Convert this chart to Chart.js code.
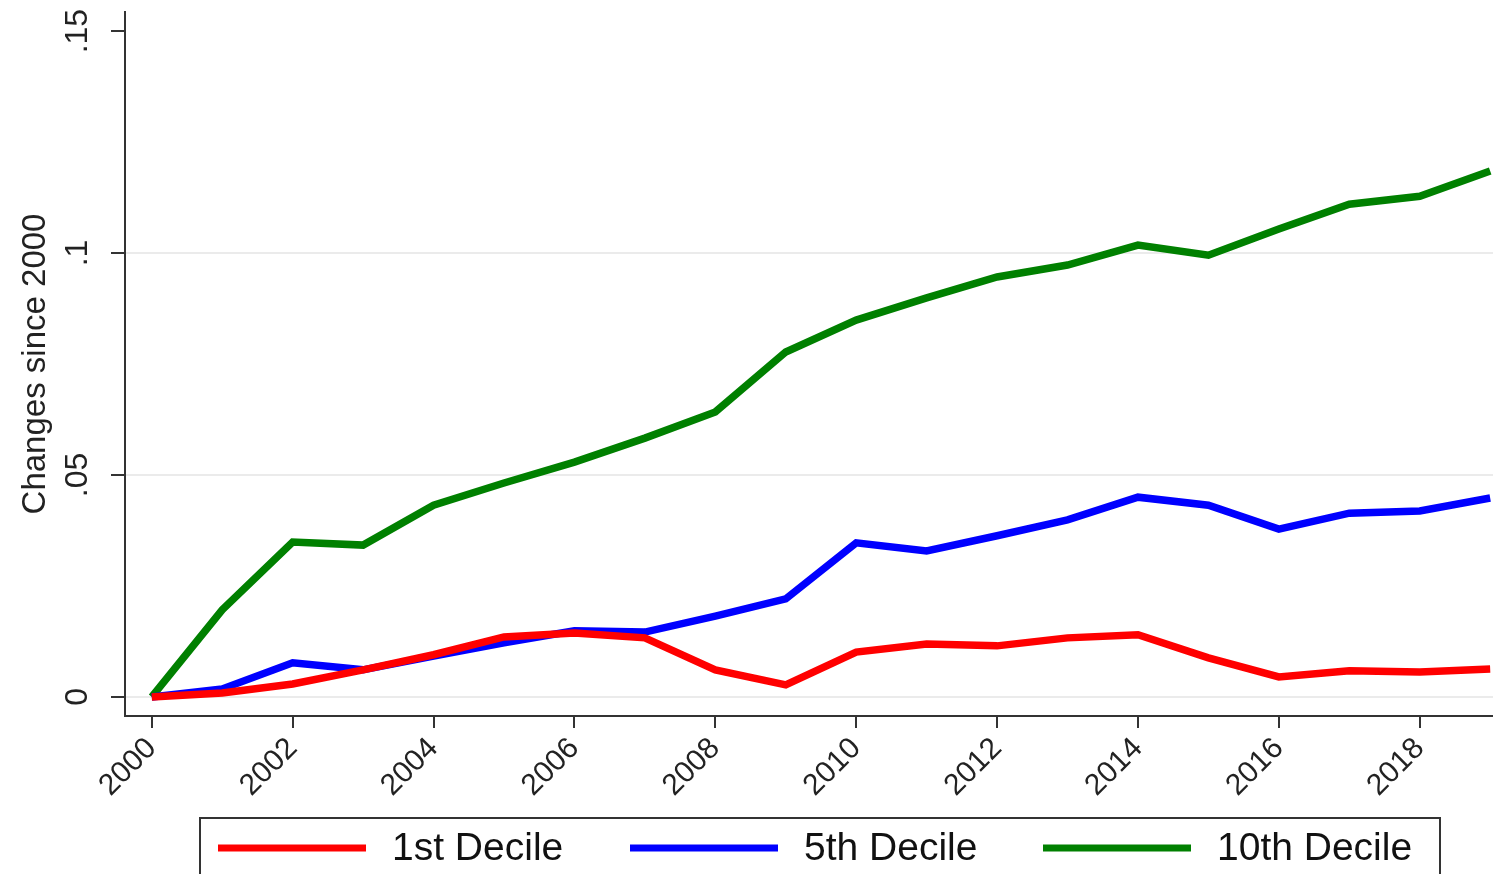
<!DOCTYPE html>
<html>
<head>
<meta charset="utf-8">
<script src="https://cdn.jsdelivr.net/npm/chart.js@4.4.1/dist/chart.umd.min.js"></script>
<style>
  html, body { margin: 0; padding: 0; background: #fff; overflow: hidden; }
  canvas { display: block; }
</style>
</head>
<body>
<canvas id="graphique" width="1493" height="874"></canvas>
<script>
var annees = [2000, 2001, 2002, 2003, 2004, 2005, 2006, 2007, 2008, 2009,
              2010, 2011, 2012, 2013, 2014, 2015, 2016, 2017, 2018, 2019];
var decile1 = [0, 0.0009, 0.0029, 0.0061, 0.0095, 0.0135, 0.0144, 0.0133, 0.0061, 0.0027,
               0.0101, 0.0119, 0.0115, 0.0133, 0.0140, 0.0088, 0.0045, 0.0059, 0.0056, 0.0063];
var decile5 = [0, 0.0018, 0.0077, 0.0061, 0.0092, 0.0122, 0.0149, 0.0146, 0.0182, 0.0221,
               0.0347, 0.0329, 0.0363, 0.0399, 0.0450, 0.0432, 0.0378, 0.0414, 0.0419, 0.0448];
var decile10 = [0, 0.0196, 0.0349, 0.0342, 0.0432, 0.0482, 0.0529, 0.0583, 0.0642, 0.0777,
                0.0849, 0.0899, 0.0946, 0.0973, 0.1018, 0.0995, 0.1054, 0.1110, 0.1128, 0.1185];
var nomsSeries = ["1st Decile", "5th Decile", "10th Decile"];
var ticksX = [2000, 2002, 2004, 2006, 2008, 2010, 2012, 2014, 2016, 2018];
var ticksY = [0, 0.05, 0.1, 0.15];
var etiquettesY = ["0", ".05", ".1", ".15"];

var police = "'Liberation Sans', Arial, sans-serif";

function points(valeurs) {
  return annees.map(function(annee, i) {
    return { x: annee, y: valeurs[i] };
  });
}

// legende encadree facon Stata, dessinee sous l'axe des x
var legendeStata = {
  id: "legendeStata",
  afterDraw: function(chart) {
    var ctx = chart.ctx;
    var departs = [218, 630, 1043];
    var yc = 848;
    ctx.save();
    ctx.strokeStyle = "#333";
    ctx.lineWidth = 2;
    ctx.strokeRect(200, 818, 1240, 80);
    chart.data.datasets.forEach(function(ds, i) {
      ctx.strokeStyle = ds.borderColor;
      ctx.lineWidth = 7;
      ctx.beginPath();
      ctx.moveTo(departs[i], yc);
      ctx.lineTo(departs[i] + 148, yc);
      ctx.stroke();
      ctx.fillStyle = "#111";
      ctx.font = "39px " + police;
      ctx.textBaseline = "middle";
      ctx.fillText(ds.label, departs[i] + 174, yc + 1);
    });
    ctx.restore();
  }
};

var ctx = document.getElementById("graphique").getContext("2d");
var chart = new Chart(ctx, {
  type: "line",
  data: {
    datasets: [
      { label: nomsSeries[0], data: points(decile1), borderColor: "rgb(255, 0, 0)", borderWidth: 7.5 },
      { label: nomsSeries[1], data: points(decile5), borderColor: "rgb(0, 0, 255)", borderWidth: 7.5 },
      { label: nomsSeries[2], data: points(decile10), borderColor: "rgb(0, 128, 0)", borderWidth: 7.5 }
    ]
  },
  options: {
    responsive: false,
    animation: false,
    layout: { padding: { top: 12, left: 0, right: 0, bottom: 0 } },
    elements: {
      point: { radius: 0 },
      line: { tension: 0, fill: false }
    },
    plugins: {
      legend: { display: false },
      tooltip: { enabled: false }
    },
    scales: {
      x: {
        type: "linear",
        min: 1999.62,
        max: 2019.04,
        afterBuildTicks: function(axis) {
          axis.ticks = ticksX.map(function(v) { return { value: v }; });
        },
        afterFit: function(axis) {
          axis.height = 158;
          axis.paddingLeft = 0;
          axis.paddingRight = 0;
        },
        ticks: {
          minRotation: 45,
          maxRotation: 45,
          padding: 3,
          color: "#222",
          font: { family: police, size: 30 },
          callback: function(v) { return String(v); }
        },
        grid: { drawOnChartArea: false, tickColor: "#333", tickLength: 12, lineWidth: 2 },
        border: { color: "#333", width: 2 }
      },
      y: {
        min: -0.0043,
        max: 0.1543,
        afterBuildTicks: function(axis) {
          axis.ticks = ticksY.map(function(v) { return { value: v }; });
        },
        afterFit: function(axis) {
          axis.width = 125;
          axis.paddingTop = 0;
          axis.paddingBottom = 0;
        },
        ticks: {
          minRotation: 90,
          maxRotation: 90,
          crossAlign: "center",
          padding: 11,
          color: "#222",
          font: { family: police, size: 32 },
          callback: function(v, i) { return etiquettesY[i]; }
        },
        grid: {
          color: function(c) {
            return c.tick && c.tick.value === 0.15 ? "rgba(0,0,0,0)" : "#ebebeb";
          },
          tickColor: "#333",
          tickLength: 14,
          lineWidth: 2
        },
        border: { color: "#333", width: 2 },
        title: {
          display: true,
          text: "Changes since 2000",
          color: "#222",
          font: { family: police, size: 33 },
          padding: { top: 16, bottom: 0 }
        }
      }
    }
  },
  plugins: [legendeStata]
});
</script>
</body>
</html>
